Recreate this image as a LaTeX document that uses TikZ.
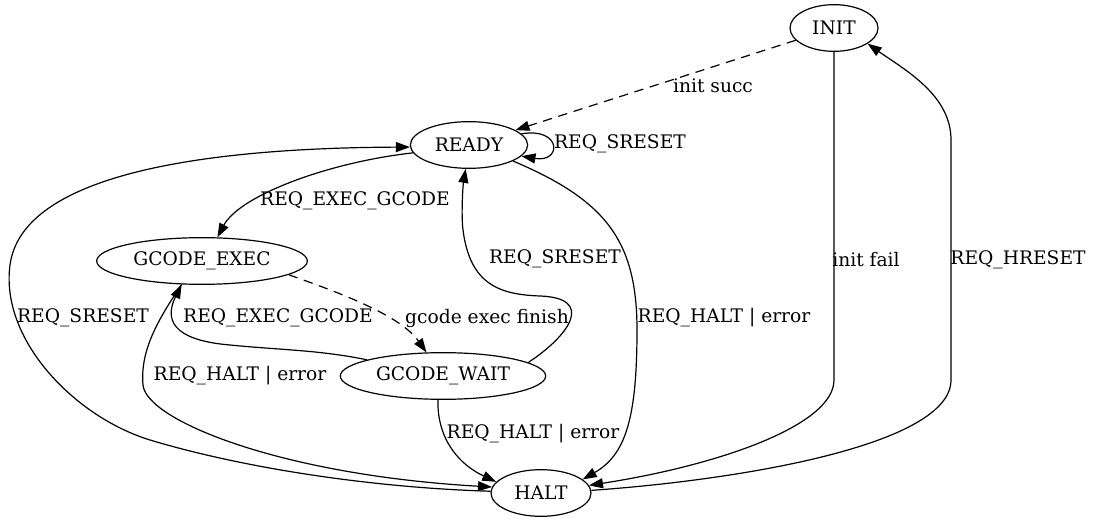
\documentclass[tikz,border=0pt]{standalone}
\usepackage{fontspec}
\setmainfont{DejaVu Serif}
\usetikzlibrary{shapes.geometric,arrows.meta}
\tikzset{
  state/.style={ellipse,draw,line width=0.9pt,inner sep=0pt,minimum height=35pt},
  trans/.style={-{Triangle[length=10.5pt,width=7.5pt]},line width=0.9pt},
  wait/.style={trans,dash pattern=on 7pt off 5pt},
  lbl/.style={inner sep=0pt}
}

\begin{document}
\begin{tikzpicture}[x=0.75pt,y=-0.75pt,font=\fontsize{14}{16}\selectfont]
\useasboundingbox (0,0) rectangle (1094,523);
\node[state,minimum width=66pt] (init) at (834,28) {INIT};
\node[state,minimum width=88pt] (ready) at (469,145) {READY};
\node[state,minimum width=158pt] (gexec) at (202,261) {GCODE\_EXEC};
\node[state,minimum width=154pt] (gwait) at (443,376) {GCODE\_WAIT};
\node[state,minimum width=75pt] (halt) at (541,493) {HALT};

\draw[wait] (init) -- (ready) node[lbl] at (713,86) {init succ};
\draw[trans] (ready.12) .. controls (562,127) and (562,163) .. (ready.-12) node[lbl] at (620,144) {REQ\_SRESET};
\draw[trans] (ready.188) .. controls (330,162) and (240,195) .. (gexec.57) node[lbl] at (355,201) {REQ\_EXEC\_GCODE};
\draw[trans] (ready.-20) .. controls (605,200) and (637,240) .. (637,330) .. controls (637,420) and (625,455) .. (halt.18) node[lbl] at (724,318) {REQ\_HALT | error};
\draw[trans] (halt.178) .. controls (380,488) and (250,470) .. (150,440) .. controls (75,417) and (0,340) .. (10,265) .. controls (22,175) and (200,148) .. (ready.182) node[lbl] at (83,318) {REQ\_SRESET};
\draw[wait] (gexec.-9) .. controls (340,293) and (400,315) .. (gwait.125) node[lbl] at (487,318) {gcode exec finish};
\draw[trans] (gwait.168) .. controls (320,350) and (280,350) .. (230,345) .. controls (170,340) and (165,318) .. (gexec.229) node[lbl] at (278,318) {REQ\_EXEC\_GCODE};
\draw[trans] (gwait.9) .. controls (570,335) and (595,298) .. (540,296) .. controls (500,294.5) and (470,285) .. (463,230) .. controls (461,214) and (463,185) .. (ready.262) node[lbl] at (555,259) {REQ\_SRESET};
\draw[trans] (gexec.229) .. controls (158,320) and (140,350) .. (143,385) .. controls (146,420) and (280,475) .. (halt.173) node[lbl] at (240,376) {REQ\_HALT | error};
\draw[trans] (gwait.258) .. controls (437,440) and (460,465) .. (halt.166) node[lbl] at (533,434) {REQ\_HALT | error};
\draw[trans] (init.270) -- (834,380) .. controls (834,425) and (720,465) .. (halt.9) node[lbl] at (866,260) {init fail};
\draw[trans] (halt.3) .. controls (740,480) and (951,445) .. (951,380) -- (951,140) .. controls (951,95) and (905,70) .. (init.-25) node[lbl] at (1018,260) {REQ\_HRESET};
\end{tikzpicture}
\end{document}
